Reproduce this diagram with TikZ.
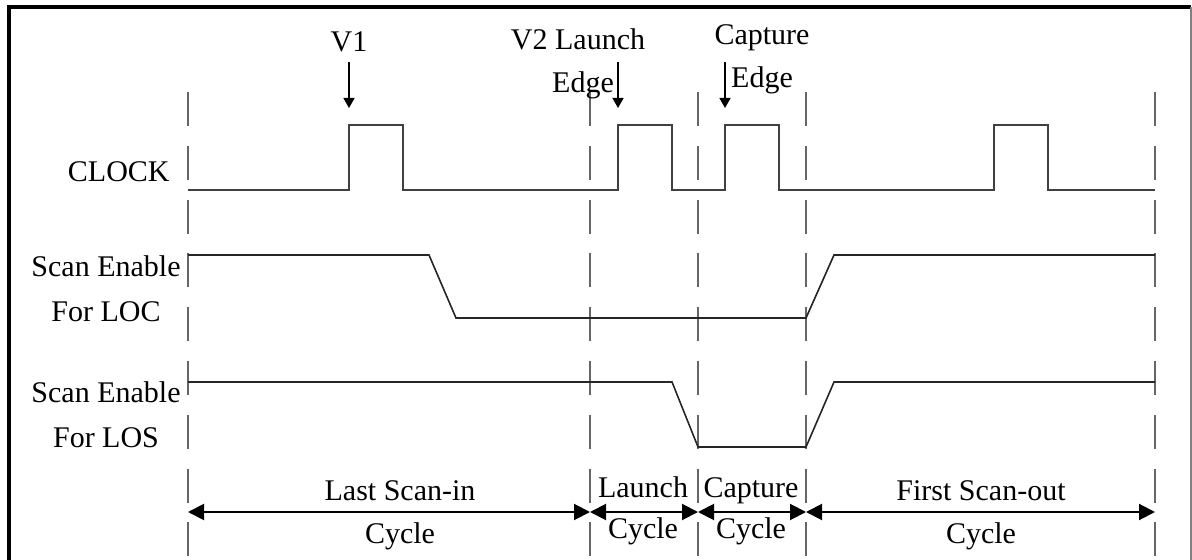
\documentclass[tikz,border=0pt]{standalone}
\usepackage{fontspec}
\setmainfont{Liberation Serif}
\usetikzlibrary{arrows.meta}

\begin{document}
\begin{tikzpicture}[x=0.5pt, y=-0.5pt,
    txt/.style={font=\fontsize{15}{18}\selectfont, inner sep=0pt, anchor=base},
    wave/.style={line width=1.1pt, black!75},
    sig/.style={line width=0.8pt, black!85},
    cyc/.style={line width=0.9pt, black!60, dash pattern=on 17pt off 9.9pt},
    edgearrow/.style={line width=0.7pt, -{Triangle[length=5pt,width=5.5pt]}},
    span/.style={line width=1pt, {Triangle[length=8pt,width=8pt]}-{Triangle[length=8pt,width=8pt]}}]

    \useasboundingbox (0,0) rectangle (1192,560);

    % frame
    \draw[line width=1.6pt] (9,560) -- (9,7) -- (1191,7);
    \draw[line width=1pt, black!50] (1191,7) -- (1191,560);

    % cycle boundaries
    \foreach \n/\x in {0/188, 1/590, 2/698, 3/806, 4/1155} {
        \coordinate (t\n) at (\x,92);
        \coordinate (b\n) at (\x,512);
        \draw[cyc] (t\n) -- (\x,557);
    }

    % CLOCK
    \draw[wave] (188,190)
        \foreach \a in {349,618,725,994} { -- (\a,190) -- (\a,125) -- (\a+54,125) -- (\a+54,190) }
        -- (1155,190);
    \node[txt, anchor=base east] (clk) at (170,182) {CLOCK};

    % scan enable, LOC
    \draw[sig] (188,255) -- (429,255) -- (456,318) -- (806,318) -- (834,255) -- (1155,255);
    \node[txt] (locA) at (106,277) {Scan Enable};
    \node[txt] (locB) at (106,322) {For LOC};

    % scan enable, LOS
    \draw[sig] (188,382) -- (672,382) -- (698,447) -- (806,447) -- (834,382) -- (1155,382);
    \node[txt] (losA) at (106,403) {Scan Enable};
    \node[txt] (losB) at (106,447) {For LOS};

    % edges
    \node[txt] (v1) at (349,52) {V1};
    \node[txt] (v2) at (578,50) {V2 Launch};
    \node[txt] (v2e) at (583,93) {Edge};
    \node[txt] (cap) at (762,45) {Capture};
    \node[txt] (cape) at (762,88) {Edge};
    \foreach \n/\x in {v1/349, la/618, ca/725} {
        \coordinate (\n s) at (\x,62);
        \coordinate (\n t) at (\x,108);
        \draw[edgearrow] (\n s) -- (\n t);
    }

    % cycles
    \foreach \a/\b in {0/1, 1/2, 2/3, 3/4}
        \draw[span] (b\a) -- (b\b);
    \node[txt] (lsi) at (400,500) {Last Scan-in};
    \node[txt] (lsic) at (400,543) {Cycle};
    \node[txt] (lch) at (643,497) {Launch};
    \node[txt] (lchc) at (643,538) {Cycle};
    \node[txt] (cpt) at (751,497) {Capture};
    \node[txt] (cptc) at (751,538) {Cycle};
    \node[txt] (fso) at (981,500) {First Scan-out};
    \node[txt] (fsoc) at (981,543) {Cycle};
\end{tikzpicture}
\end{document}
